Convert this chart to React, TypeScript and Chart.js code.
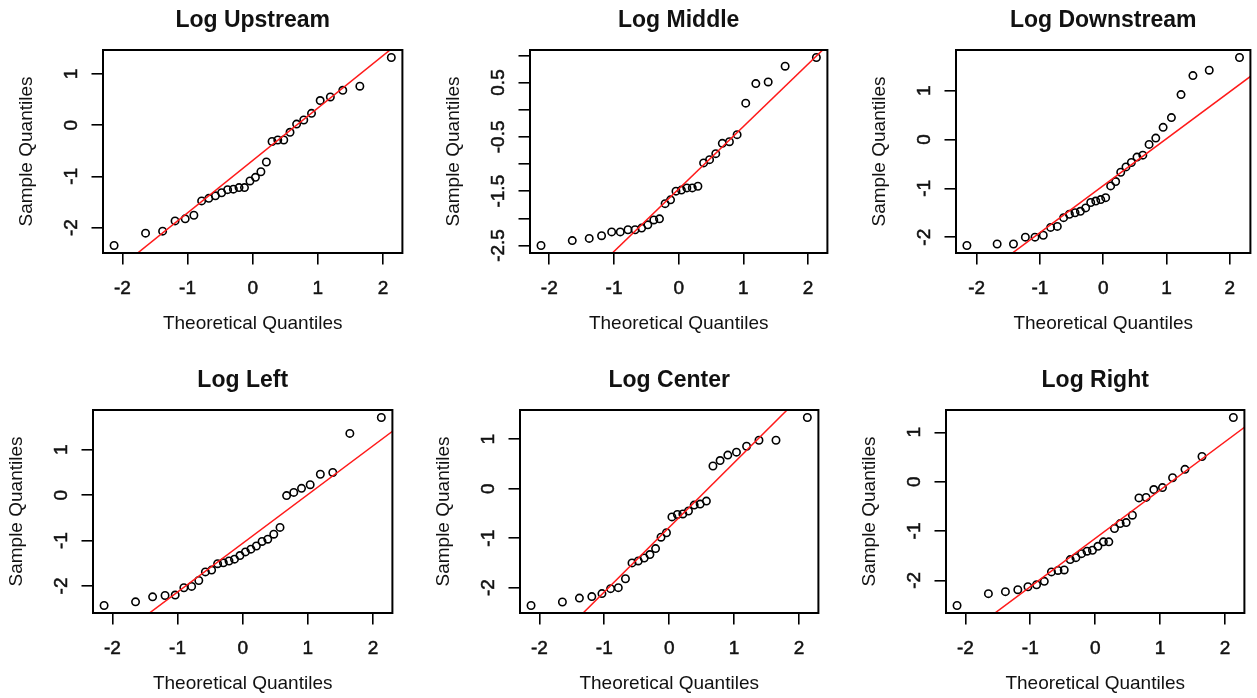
import React, { useEffect, useRef } from 'react';
import { Chart, registerables } from 'chart.js';

Chart.register(...registerables);

const quantiles30 = [-2.128, -1.645, -1.383, -1.192, -1.036, -0.903, -0.784, -0.674, -0.573, -0.477, -0.385, -0.297, -0.210, -0.126, -0.042, 0.042, 0.126, 0.210, 0.297, 0.385, 0.477, 0.573, 0.674, 0.784, 0.903, 1.036, 1.192, 1.383, 1.645, 2.128];
const quantiles32 = [-2.154, -1.676, -1.418, -1.230, -1.078, -0.947, -0.831, -0.725, -0.626, -0.534, -0.445, -0.360, -0.277, -0.197, -0.118, -0.039, 0.039, 0.118, 0.197, 0.277, 0.360, 0.445, 0.534, 0.626, 0.725, 0.831, 0.947, 1.078, 1.230, 1.418, 1.676, 2.154];

// Sample quantiles (sorted) for each panel
const upstream = [-2.35, -2.11, -2.07, -1.87, -1.83, -1.76, -1.48, -1.43, -1.38, -1.32, -1.26, -1.25, -1.22, -1.22, -1.09, -1.02, -0.91, -0.72, -0.32, -0.29, -0.29, -0.14, 0.02, 0.10, 0.23, 0.48, 0.55, 0.68, 0.76, 1.32];
const middle = [-2.50, -2.41, -2.37, -2.32, -2.25, -2.25, -2.21, -2.21, -2.18, -2.12, -2.03, -2.01, -1.73, -1.66, -1.50, -1.48, -1.44, -1.44, -1.41, -0.98, -0.92, -0.81, -0.62, -0.59, -0.46, 0.12, 0.48, 0.51, 0.80, 0.96];
const downstream = [-2.17, -2.14, -2.14, -2.00, -2.00, -1.96, -1.80, -1.78, -1.60, -1.53, -1.50, -1.47, -1.40, -1.29, -1.26, -1.23, -1.19, -0.95, -0.86, -0.67, -0.56, -0.47, -0.36, -0.32, -0.10, 0.03, 0.25, 0.45, 0.92, 1.31, 1.42, 1.68];
const leftBank = [-2.43, -2.35, -2.24, -2.21, -2.20, -2.04, -2.01, -1.88, -1.69, -1.65, -1.51, -1.49, -1.45, -1.41, -1.33, -1.25, -1.19, -1.12, -1.02, -0.97, -0.86, -0.71, -0.01, 0.06, 0.15, 0.23, 0.46, 0.50, 1.36, 1.71];
const centerBank = [-2.36, -2.29, -2.21, -2.18, -2.12, -2.02, -2.00, -1.82, -1.50, -1.46, -1.40, -1.33, -1.21, -0.98, -0.89, -0.57, -0.52, -0.51, -0.45, -0.33, -0.31, -0.25, 0.46, 0.57, 0.68, 0.74, 0.86, 0.98, 0.98, 1.44];
const rightBank = [-2.51, -2.27, -2.23, -2.19, -2.13, -2.09, -2.02, -1.83, -1.80, -1.79, -1.58, -1.54, -1.46, -1.41, -1.39, -1.31, -1.22, -1.22, -0.95, -0.85, -0.83, -0.68, -0.33, -0.32, -0.16, -0.12, 0.08, 0.25, 0.51, 1.30];

// Reference (qq) line: y values at x = -3 and x = 3
const lineX = [-3, 3];
const upstreamLine = [-3.76, 2.38];
const middleLine = [-4.91, 1.99];
const downstreamLine = [-3.83, 1.94];
const leftLine = [-4.28, 2.16];
const centerLine = [-4.70, 3.14];
const rightLine = [-4.09, 1.79];

// Tick values and labels
const xTicks = [-2, -1, 0, 1, 2];
const xTickLabels = ['-2', '-1', '0', '1', '2'];
const unitTicks = [-2, -1, 0, 1];
const unitTickLabels = ['-2', '-1', '0', '1'];
const halfTicks = [-2.5, -2, -1.5, -1, -0.5, 0, 0.5, 1];
const halfTickLabels = ['-2.5', '', '-1.5', '', '-0.5', '', '0.5', ''];

const FONT = "'Liberation Sans', Arial, sans-serif";
const TEXT = '#111';

const panels = [
  { title: 'Log Upstream', q: quantiles30, s: upstream, line: upstreamLine, yTicks: unitTicks, yLabels: unitTickLabels, L: 103, T: 50, R: 406, B: 253 },
  { title: 'Log Middle', q: quantiles30, s: middle, line: middleLine, yTicks: halfTicks, yLabels: halfTickLabels, L: 530, T: 50, R: 831, B: 253 },
  { title: 'Log Downstream', q: quantiles32, s: downstream, line: downstreamLine, yTicks: unitTicks, yLabels: unitTickLabels, L: 956, T: 50, R: 1254, B: 253 },
  { title: 'Log Left', q: quantiles30, s: leftBank, line: leftLine, yTicks: unitTicks, yLabels: unitTickLabels, L: 93, T: 410, R: 396, B: 613 },
  { title: 'Log Center', q: quantiles30, s: centerBank, line: centerLine, yTicks: unitTicks, yLabels: unitTickLabels, L: 520, T: 410, R: 822, B: 613 },
  { title: 'Log Right', q: quantiles30, s: rightBank, line: rightLine, yTicks: unitTicks, yLabels: unitTickLabels, L: 946, T: 410, R: 1248, B: 613 },
];

const Y_AXIS_W = 88;
const TITLE_H = 50;
const X_AXIS_H = 84;
const PAD_R = 2;
const TICK_LEN = 11.5;

function expand(vals: number[]) {
  const mn = Math.min(...vals);
  const mx = Math.max(...vals);
  const d = (mx - mn) * 0.04;
  return [mn - d, mx + d];
}

function measure(text: string, size: number) {
  const c = document.createElement('canvas').getContext('2d')!;
  c.font = `${size}px ${FONT}`;
  return c.measureText(text).width;
}

const boxPlugin = {
  id: 'rbox',
  afterDatasetsDraw(chart: any) {
    const { ctx, chartArea: a } = chart;
    ctx.save();
    ctx.strokeStyle = '#000';
    ctx.lineWidth = 2;
    ctx.strokeRect(a.left, a.top, a.right - a.left, a.bottom - a.top);
    ctx.restore();
  },
};

function QQPanel({ p }: { p: typeof panels[number] }) {
  const ref = useRef<HTMLCanvasElement>(null);
  const w = Y_AXIS_W + (p.R - p.L) + PAD_R;
  const h = TITLE_H + (p.B - p.T) + X_AXIS_H;
  useEffect(() => {
    const [xmin, xmax] = expand(p.q);
    const [ymin, ymax] = expand(p.s);
    const widest = Math.max(...p.yLabels.map((t) => measure(t, 19)));
    const yPad = 31.5 - TICK_LEN - widest / 2;
    const tickFont = { family: FONT, size: 19, lineHeight: 1.2 };
    const chart = new Chart(ref.current!, {
      type: 'scatter',
      data: {
        datasets: [
          {
            data: lineX.map((x, i) => ({ x, y: p.line[i] })),
            showLine: true,
            borderColor: '#ff1a1a',
            borderWidth: 1.5,
            pointRadius: 0,
            fill: false,
          },
          {
            data: p.q.map((x, i) => ({ x, y: p.s[i] })),
            pointRadius: 3.7,
            borderWidth: 1.6,
            borderColor: '#000',
            backgroundColor: 'rgba(0,0,0,0)',
            showLine: false,
          },
        ],
      },
      options: {
        responsive: false,
        animation: false,
        events: [],
        layout: { padding: { left: 0, top: 0, right: PAD_R, bottom: 0 } },
        plugins: {
          legend: { display: false },
          tooltip: { enabled: false },
          title: {
            display: true,
            text: p.title,
            fullSize: false,
            color: TEXT,
            font: { family: FONT, size: 23, weight: 'bold', lineHeight: 1.2 },
            padding: { top: 7.2, bottom: TITLE_H - 27.6 - 7.2 },
          },
        },
        scales: {
          x: {
            type: 'linear',
            position: 'bottom',
            min: xmin,
            max: xmax,
            afterBuildTicks: (s: any) => {
              s.ticks = xTicks.map((v) => ({ value: v }));
            },
            afterFit: (s: any) => {
              s.height = X_AXIS_H;
              s.paddingLeft = 0;
              s.paddingRight = 0;
            },
            ticks: {
              autoSkip: false,
              maxRotation: 0,
              minRotation: 0,
              padding: 12.6,
              color: TEXT,
              textStrokeColor: TEXT,
              textStrokeWidth: 0.5,
              font: tickFont,
              callback: (_v: any, i: number) => xTickLabels[i],
            },
            grid: {
              drawOnChartArea: false,
              drawTicks: true,
              tickLength: TICK_LEN,
              color: '#000',
              lineWidth: 1.6,
            },
            border: { display: false },
            title: {
              display: true,
              text: 'Theoretical Quantiles',
              color: TEXT,
              font: tickFont,
              padding: { top: 0, bottom: 2.1 },
            },
          },
          y: {
            type: 'linear',
            position: 'left',
            min: ymin,
            max: ymax,
            afterBuildTicks: (s: any) => {
              s.ticks = p.yTicks.map((v) => ({ value: v }));
            },
            afterFit: (s: any) => {
              s.width = Y_AXIS_W;
              s.paddingTop = 0;
              s.paddingBottom = 0;
            },
            ticks: {
              autoSkip: false,
              minRotation: 90,
              maxRotation: 90,
              crossAlign: 'center',
              padding: yPad,
              color: TEXT,
              textStrokeColor: TEXT,
              textStrokeWidth: 0.5,
              font: tickFont,
              callback: (_v: any, i: number) => p.yLabels[i],
            },
            grid: {
              drawOnChartArea: false,
              drawTicks: true,
              tickLength: TICK_LEN,
              color: '#000',
              lineWidth: 1.6,
            },
            border: { display: false },
            title: {
              display: true,
              text: 'Sample Quantiles',
              color: TEXT,
              font: tickFont,
              padding: { top: 0, bottom: 0 },
            },
          },
        },
      } as any,
      plugins: [boxPlugin],
    });
    return () => chart.destroy();
  }, []);
  return (
    <canvas
      ref={ref}
      width={w}
      height={h}
      style={{ position: 'absolute', left: p.L - Y_AXIS_W, top: p.T - TITLE_H, width: w, height: h }}
    />
  );
}

export default function App() {
  return (
    <div style={{ position: 'absolute', left: 0, top: 0, width: 1257, height: 698, background: '#fff', overflow: 'hidden' }}>
      {panels.map((p) => (
        <QQPanel key={p.title} p={p} />
      ))}
    </div>
  );
}
